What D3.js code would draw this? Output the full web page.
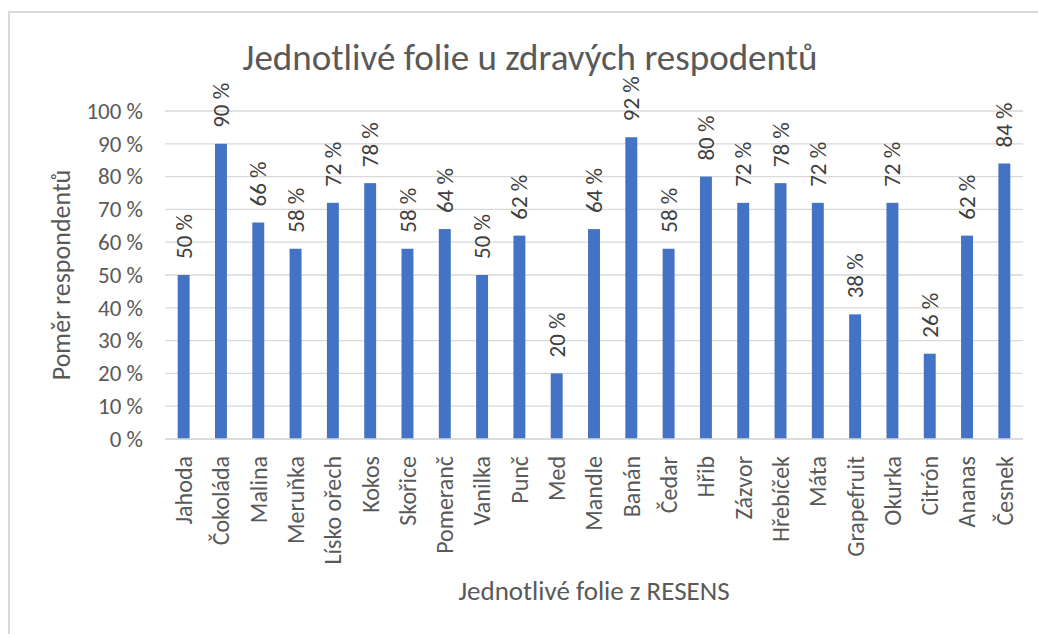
<!DOCTYPE html>
<html>
<head>
<meta charset="utf-8">
<script src="https://cdn.jsdelivr.net/npm/d3@7"></script>
<style>
  body { margin: 0; background: #fff; }
  svg text { font-family: Calibri, Carlito, Lato, sans-serif; }
</style>
</head>
<body>
<div id="chart"></div>
<script>
// categories (folie)
var categories = ["Jahoda", "Čokoláda", "Malina", "Meruňka", "Lísko ořech", "Kokos", "Skořice",
  "Pomeranč", "Vanilka", "Punč", "Med", "Mandle", "Banán", "Čedar", "Hřib", "Zázvor",
  "Hřebíček", "Máta", "Grapefruit", "Okurka", "Citrón", "Ananas", "Česnek"];
// share of respondents, percent
var values = [50, 90, 66, 58, 72, 78, 58, 64, 50, 62, 20, 64, 92, 58, 80, 72, 78, 72, 38, 72, 26, 62, 84];
var yTicks = [0, 10, 20, 30, 40, 50, 60, 70, 80, 90, 100];

function init() {
  var w = 1038;
  var h = 634;
  var plotLeft = 165, plotRight = 1023, plotTop = 111, plotBottom = 439;

  var svg = d3.select("#chart")
    .append("svg")
    .attr("width", w)
    .attr("height", h);

  // chart frame (cut off on right / bottom like the screenshot)
  svg.append("rect")
    .attr("x", 9).attr("y", 12)
    .attr("width", 1200).attr("height", 800)
    .attr("fill", "#fff")
    .attr("stroke", "#d9d9d9")
    .attr("stroke-width", 2);

  var x = d3.scaleBand()
    .domain(categories)
    .range([plotLeft, plotRight])
    .paddingInner(0.68)
    .paddingOuter(0.34);

  var y = d3.scaleLinear()
    .domain([0, 100])
    .range([plotBottom, plotTop]);

  // gridlines
  svg.append("g")
    .selectAll("line")
    .data(yTicks)
    .enter()
    .append("line")
    .attr("x1", plotLeft)
    .attr("x2", plotRight)
    .attr("y1", function(d) { return y(d); })
    .attr("y2", function(d) { return y(d); })
    .attr("stroke", "#d9d9d9")
    .attr("stroke-width", 1.3);

  // y axis labels
  var yAxis = d3.axisLeft(y)
    .tickValues(yTicks)
    .tickSize(0)
    .tickPadding(22)
    .tickFormat(function(d) { return d + " %"; });

  var ya = svg.append("g")
    .attr("transform", "translate(" + plotLeft + ",0)")
    .call(yAxis);
  ya.select(".domain").remove();
  ya.selectAll("text")
    .attr("fill", "#595959")
    .style("font-family", "Calibri, Carlito, Lato, sans-serif")
    .style("font-size", "23px");

  // bars
  svg.append("g")
    .selectAll("rect")
    .data(values)
    .enter()
    .append("rect")
    .attr("x", function(d, i) { return x(categories[i]); })
    .attr("y", function(d) { return y(d); })
    .attr("width", x.bandwidth())
    .attr("height", function(d) { return y(0) - y(d); })
    .attr("fill", "#4472c4");

  // value labels
  svg.append("g")
    .selectAll("text")
    .data(values)
    .enter()
    .append("text")
    .attr("transform", function(d, i) {
      var cx = x(categories[i]) + x.bandwidth() / 2;
      return "translate(" + cx + "," + (y(d) - 16) + ") rotate(-90)";
    })
    .attr("dy", "0.35em")
    .attr("fill", "#404040")
    .style("font-size", "23px")
    .text(function(d) { return d + " %"; });

  // x axis baseline
  svg.append("line")
    .attr("x1", plotLeft).attr("x2", plotRight)
    .attr("y1", plotBottom).attr("y2", plotBottom)
    .attr("stroke", "#d9d9d9")
    .attr("stroke-width", 1.3);

  // x axis labels
  var xAxis = d3.axisBottom(x).tickSize(0).tickPadding(0);
  var xa = svg.append("g")
    .attr("transform", "translate(0," + plotBottom + ")")
    .call(xAxis);
  xa.select(".domain").remove();
  xa.selectAll("text")
    .attr("transform", "translate(0,17) rotate(-90)")
    .attr("dy", "0.35em")
    .attr("y", 0)
    .style("text-anchor", "end")
    .attr("fill", "#595959")
    .style("font-family", "Calibri, Carlito, Lato, sans-serif")
    .style("font-size", "24px");

  // title
  svg.append("text")
    .attr("x", 530)
    .attr("y", 70)
    .attr("text-anchor", "middle")
    .attr("fill", "#595959")
    .style("font-size", "37px")
    .style("font-weight", "300")
    .text("Jednotlivé folie u zdravých respodentů");

  // axis titles
  svg.append("text")
    .attr("transform", "translate(70,275) rotate(-90)")
    .attr("text-anchor", "middle")
    .attr("fill", "#595959")
    .style("font-size", "26px")
    .text("Poměr respondentů");

  svg.append("text")
    .attr("x", 594)
    .attr("y", 600)
    .attr("text-anchor", "middle")
    .attr("fill", "#595959")
    .style("font-size", "27px")
    .text("Jednotlivé folie z RESENS");
}

window.onload = init;
</script>
</body>
</html>
